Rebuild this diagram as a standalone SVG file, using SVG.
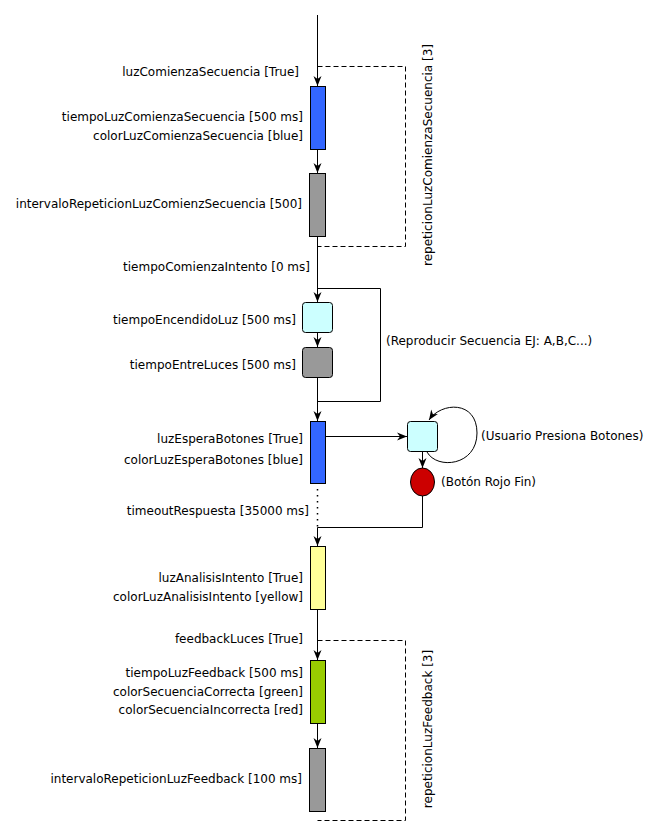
<svg xmlns="http://www.w3.org/2000/svg" width="661" height="836" viewBox="0 0 661 836">
<style>
text{font-family:"DejaVu Sans",sans-serif;font-size:12px;fill:#000}
.r{text-anchor:end}
.c{stroke:#000;stroke-width:1;fill:none}
.arr{marker-end:url(#ah)}
.dash{stroke-dasharray:5 3}
.dot{stroke-dasharray:1.5 4.5;stroke-width:1.5}
.n{stroke:#000;stroke-width:1}
</style>
<defs>
<marker id="ah" markerUnits="userSpaceOnUse" markerWidth="12" markerHeight="10" refX="10" refY="5" orient="auto" overflow="visible">
<path d="M10,5 L0,1 L3,5 L0,9 Z" fill="#000"/>
</marker>
</defs>
<rect width="661" height="836" fill="#fff"/>
<g id="connectors">
<path class="c arr" d="M317.5,15 V86"/>
<path class="c arr" d="M317.5,149 V173"/>
<path class="c arr" d="M317.5,236 V302"/>
<path class="c arr" d="M317.5,332 V347"/>
<path class="c arr" d="M317.5,377 V421"/>
<path class="c" d="M317.5,401.5 H380.5 V288.5 H317.5"/>
<path class="c arr" d="M325,436.5 H407"/>
<path class="c arr" d="M427,452 C437,470 477,466 477,433 C477,400 441,402 429,420"/>
<path class="c arr" d="M422.5,452 V468"/>
<path class="c arr" d="M422.5,496 V527.5 H317.5 V546"/>
<path class="c dot" d="M317.5,489 V527"/>
<path class="c arr" d="M317.5,609 V660"/>
<path class="c arr" d="M317.5,723 V748"/>
<path class="c dash" d="M317.5,66.5 H405.5 V246.5 H317.5"/>
<path class="c dash" d="M317.5,640.5 H405.5 V820.5 H317.5"/>
</g>
<g id="luzComienzaSecuencia">
<rect class="n" x="310.5" y="86.5" width="15" height="63" fill="#3366ff"/>
<text class="r" x="299" y="76">luzComienzaSecuencia [True]</text>
<text class="r" x="303" y="121">tiempoLuzComienzaSecuencia [500 ms]</text>
<text class="r" x="303" y="140">colorLuzComienzaSecuencia [blue]</text>
</g>
<g id="intervaloComienza">
<rect class="n" x="309.5" y="173.5" width="16" height="63" fill="#999999"/>
<text class="r" x="302" y="208">intervaloRepeticionLuzComienzSecuencia [500]</text>
</g>
<g id="repeticionComienza">
<text transform="translate(432,155) rotate(-90)" text-anchor="middle">repeticionLuzComienzaSecuencia [3]</text>
</g>
<g id="tiempoComienzaIntento">
<text class="r" x="310" y="271">tiempoComienzaIntento [0 ms]</text>
</g>
<g id="tiempoEncendidoLuz">
<rect class="n" x="302.5" y="302.5" width="30" height="30" rx="3" fill="#ccffff"/>
<text class="r" x="296" y="324">tiempoEncendidoLuz [500 ms]</text>
</g>
<g id="tiempoEntreLuces">
<rect class="n" x="302.5" y="347.5" width="30" height="30" rx="3" fill="#999999"/>
<text class="r" x="296" y="369">tiempoEntreLuces [500 ms]</text>
</g>
<g id="reproducir">
<text x="386" y="345">(Reproducir Secuencia EJ: A,B,C...)</text>
</g>
<g id="luzEsperaBotones">
<rect class="n" x="310.5" y="421.5" width="15" height="62" fill="#3366ff"/>
<text class="r" x="303" y="443">luzEsperaBotones [True]</text>
<text class="r" x="303" y="464">colorLuzEsperaBotones [blue]</text>
</g>
<g id="usuarioPresiona">
<rect class="n" x="407.5" y="421.5" width="30" height="30" rx="3" fill="#ccffff"/>
<text x="481" y="440">(Usuario Presiona Botones)</text>
</g>
<g id="botonRojo">
<ellipse class="n" cx="422.5" cy="482" rx="12" ry="14" fill="#cc0000"/>
<text x="441" y="486">(Botón Rojo Fin)</text>
</g>
<g id="timeoutRespuesta">
<text class="r" x="309" y="515">timeoutRespuesta [35000 ms]</text>
</g>
<g id="luzAnalisisIntento">
<rect class="n" x="310.5" y="546.5" width="15" height="63" fill="#ffff99"/>
<text class="r" x="303" y="582">luzAnalisisIntento [True]</text>
<text class="r" x="303" y="601">colorLuzAnalisisIntento [yellow]</text>
</g>
<g id="feedbackLuces">
<rect class="n" x="310.5" y="660.5" width="15" height="63" fill="#99cc00"/>
<text class="r" x="303" y="643">feedbackLuces [True]</text>
<text class="r" x="303" y="677">tiempoLuzFeedback [500 ms]</text>
<text class="r" x="303" y="696">colorSecuenciaCorrecta [green]</text>
<text class="r" x="303" y="714">colorSecuenciaIncorrecta [red]</text>
</g>
<g id="intervaloFeedback">
<rect class="n" x="309.5" y="748.5" width="16" height="63" fill="#999999"/>
<text class="r" x="302" y="783">intervaloRepeticionLuzFeedback [100 ms]</text>
</g>
<g id="repeticionFeedback">
<text transform="translate(432,729) rotate(-90)" text-anchor="middle">repeticionLuzFeedback [3]</text>
</g>
</svg>
